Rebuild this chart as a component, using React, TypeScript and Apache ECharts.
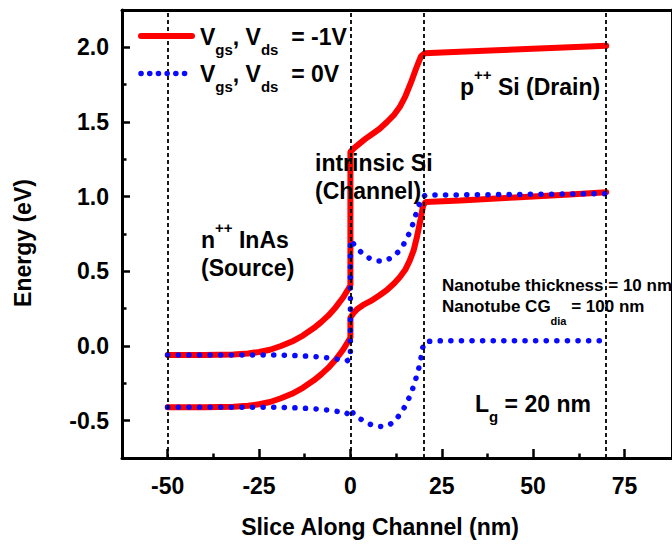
import React, { useEffect, useRef } from 'react';
import * as echarts from 'echarts';

// ---- Axis ticks ----
const xTickValues = [-50, -25, 0, 25, 50, 75];
const xMinorTickValues = [-37.5, -12.5, 12.5, 37.5, 62.5];
const yTickValues = [-0.5, 0, 0.5, 1, 1.5, 2];
const yMinorTickValues = [-0.25, 0.25, 0.75, 1.25, 1.75];
const regionBoundaries = [-50, 0, 20, 70];

// ---- Series data [x (nm), energy (eV)] ----
// Vgs, Vds = -1V : conduction band edge
const redCB = [
  [-50, -0.06], [-40, -0.06], [-32, -0.057], [-28, -0.05], [-25, -0.04], [-22, -0.025],
  [-19, 0.0], [-16, 0.03], [-13, 0.07], [-10, 0.12], [-8, 0.16], [-6, 0.205], [-4, 0.26],
  [-2, 0.325], [0, 0.405], [0, 1.3], [1, 1.325], [2, 1.345], [4, 1.385], [6, 1.42],
  [8, 1.455], [10, 1.5], [12, 1.55], [13.5, 1.6], [15, 1.67], [16.5, 1.76], [18, 1.86],
  [19.3, 1.94], [20.3, 1.96], [25, 1.965], [40, 1.98], [55, 1.995], [70, 2.01],
];
// Vgs, Vds = -1V : valence band edge
const redVB = [
  [-50, -0.41], [-40, -0.41], [-32, -0.407], [-28, -0.4], [-25, -0.39], [-22, -0.375],
  [-19, -0.35], [-16, -0.32], [-13, -0.28], [-10, -0.23], [-8, -0.19], [-6, -0.145],
  [-4, -0.09], [-2, -0.025], [0, 0.055], [0, 0.19], [1, 0.225], [2, 0.25], [3.5, 0.275],
  [5.5, 0.3], [8, 0.34], [10, 0.375], [12, 0.42], [13.5, 0.46], [15, 0.51], [16.2, 0.57],
  [17.3, 0.64], [18.3, 0.74], [19.2, 0.85], [19.9, 0.94], [20.6, 0.965], [30, 0.975],
  [45, 0.995], [60, 1.015], [70, 1.03],
];
// Vgs, Vds = 0V : conduction band edge
const blueCB = [
  [-50, -0.06], [-20, -0.06], [-14, -0.065], [-10, -0.07], [-6, -0.08], [-3, -0.09],
  [-1, -0.1], [0, -0.085], [0, 0.71], [1, 0.68], [2.2, 0.645], [3.5, 0.615], [5, 0.59],
  [7, 0.57], [9.5, 0.57], [11.5, 0.595], [13.3, 0.635], [14.8, 0.69], [16, 0.75], [17, 0.81],
  [17.9, 0.88], [18.7, 0.94], [19.5, 0.99], [20.5, 1.01], [30, 1.012], [50, 1.016], [70, 1.02],
];
// Vgs, Vds = 0V : valence band edge
const blueVB = [
  [-50, -0.41], [-20, -0.41], [-14, -0.415], [-10, -0.42], [-6, -0.43], [-3, -0.44],
  [-1, -0.455], [0, -0.42], [1, -0.46], [2.5, -0.485], [4.5, -0.515], [6.5, -0.535],
  [8.5, -0.54], [10.5, -0.53], [12, -0.505], [13.5, -0.46], [14.8, -0.41], [16, -0.35],
  [17, -0.29], [17.9, -0.22], [18.7, -0.15], [19.3, -0.08], [19.8, -0.01], [20.5, 0.03],
  [25, 0.035], [70, 0.035],
];

// ---- Texts ----
const xAxisTitle = 'Slice Along Channel (nm)';
const yAxisTitle = 'Energy (eV)';
const legendRed = '{m|V}{sub|gs}{m|, V}{sub|ds}{m|  = -1V}';
const legendBlue = '{m|V}{sub|gs}{m|, V}{sub|ds}{m|  = 0V}';
const sourceLine1 = '{m|n}{sup|++}{m| InAs}';
const sourceLine2 = '{m|(Source)}';
const channelLine1 = '{m|intrinsic Si}';
const channelLine2 = '{m|(Channel)}';
const drainLabel = '{m|p}{sup|++}{m| Si (Drain)}';
const thicknessNote = '{m|Nanotube thickness = 10 nm}';
const diameterNote = '{m|Nanotube CG}{sub|dia}{m| = 100 nm}';
const gateNote = '{m|L}{sub|g}{m| = 20 nm}';

const FONT = 'Liberation Sans, Arial, Helvetica, sans-serif';
const RED = '#ff0000';
const BLUE = '#0a0aff';

function rich(F: number, S: number, dsup: number, dsub: number) {
  const base = { fontFamily: FONT, fontWeight: 'bold' as const, color: '#000' };
  return {
    m: { ...base, fontSize: F, lineHeight: 40, verticalAlign: 'middle' },
    sup: { ...base, fontSize: S, lineHeight: 40 - 2 * dsup, verticalAlign: 'top' },
    sub: { ...base, fontSize: S, lineHeight: 40 - 2 * dsub, verticalAlign: 'bottom' },
  };
}

function label(text: string, x: number, capCenter: number, F = 23, S = 15, dsup = 15, dsub = 12) {
  return {
    type: 'text',
    x,
    y: capCenter - 20,
    z: 20,
    silent: true,
    style: { text, rich: rich(F, S, dsup, dsub), align: 'left', verticalAlign: 'top' },
  };
}

const dotted = { type: [0.1, 10.5] as number[], cap: 'round' as const, width: 5.5, color: BLUE };
const solid = { type: 'solid' as const, cap: 'round' as const, width: 6, color: RED };

export default function App() {
  const ref = useRef<HTMLDivElement>(null);
  useEffect(() => {
    if (!ref.current) return;
    const chart = echarts.init(ref.current, undefined, { renderer: 'svg' });
    const common = { min: -62.5, max: 88, type: 'value' as const, splitLine: { show: false } };
    const yCommon = { min: -0.75, max: 2.25, type: 'value' as const, splitLine: { show: false } };
    const axisText = { color: '#000', fontSize: 23, fontWeight: 'bold' as const, fontFamily: FONT };
    chart.setOption({
      animation: false,
      backgroundColor: '#fff',
      grid: { left: 122, top: 10, right: -4, bottom: 89, containLabel: false },
      xAxis: [
        {
          ...common,
          position: 'bottom',
          axisLine: { show: true, onZero: false, lineStyle: { color: '#000', width: 3 } },
          axisTick: { show: true, inside: true, length: 9, customValues: xTickValues, lineStyle: { color: '#000', width: 2.5 } },
          axisLabel: { ...axisText, customValues: xTickValues, margin: 16, formatter: (v: number) => String(v) },
          name: xAxisTitle,
          nameLocation: 'middle',
          nameGap: 57,
          nameTextStyle: { ...axisText, padding: [0, 34, 0, 0] },
        },
        {
          ...common,
          position: 'bottom',
          axisLine: { show: false, onZero: false },
          axisTick: { show: true, inside: true, length: 4.5, customValues: xMinorTickValues, lineStyle: { color: '#000', width: 2.5 } },
          axisLabel: { show: false },
        },
        {
          ...common,
          position: 'top',
          axisLine: { show: true, onZero: false, lineStyle: { color: '#000', width: 3 } },
          axisTick: { show: false },
          axisLabel: { show: false },
        },
      ],
      yAxis: [
        {
          ...yCommon,
          position: 'left',
          axisLine: { show: true, onZero: false, lineStyle: { color: '#000', width: 3 } },
          axisTick: { show: true, inside: true, length: 8, customValues: yTickValues, lineStyle: { color: '#000', width: 2.5 } },
          axisLabel: { ...axisText, customValues: yTickValues, margin: 13, formatter: (v: number) => v.toFixed(1) },
          name: yAxisTitle,
          nameLocation: 'middle',
          nameRotate: 90,
          nameGap: 88,
          nameTextStyle: { ...axisText, padding: [0, 18, 0, 0] },
        },
        {
          ...yCommon,
          position: 'left',
          axisLine: { show: false, onZero: false },
          axisTick: { show: true, inside: true, length: 4.5, customValues: yMinorTickValues, lineStyle: { color: '#000', width: 2.5 } },
          axisLabel: { show: false },
        },
        {
          ...yCommon,
          position: 'right',
          axisLine: { show: true, onZero: false, lineStyle: { color: '#000', width: 3 } },
          axisTick: { show: false },
          axisLabel: { show: false },
        },
      ],
      series: [
        { name: 'Vgs, Vds = -1V (Ec)', type: 'line', data: redCB, showSymbol: false, symbol: 'none', lineStyle: solid, z: 2 },
        { name: 'Vgs, Vds = -1V (Ev)', type: 'line', data: redVB, showSymbol: false, symbol: 'none', lineStyle: solid, z: 2 },
        { name: 'Vgs, Vds = 0V (Ec)', type: 'line', data: blueCB, showSymbol: false, symbol: 'none', lineStyle: dotted, z: 3 },
        { name: 'Vgs, Vds = 0V (Ev)', type: 'line', data: blueVB, showSymbol: false, symbol: 'none', lineStyle: dotted, z: 3 },
        {
          name: 'regions',
          type: 'line',
          data: [],
          z: 5,
          markLine: {
            silent: true,
            symbol: ['none', 'none'],
            label: { show: false },
            lineStyle: { color: '#000', type: [4, 3], width: 1.8 },
            emphasis: { disabled: true },
            data: regionBoundaries.map((v) => ({ xAxis: v })),
          },
        },
      ],
      graphic: [
        { type: 'line', silent: true, z: 20, shape: { x1: 141, y1: 36, x2: 192, y2: 36 }, style: { stroke: RED, lineWidth: 6, lineCap: 'round' } },
        { type: 'line', silent: true, z: 20, shape: { x1: 141, y1: 73.5, x2: 193, y2: 73.5 }, style: { stroke: BLUE, lineWidth: 5.5, lineCap: 'round', lineDash: [0.1, 8.6] } },
        label(legendRed, 200, 37),
        label(legendBlue, 200, 73.5),
        label(sourceLine1, 201, 240, 23, 15, 16, 12),
        label(sourceLine2, 201, 267.5),
        label(channelLine1, 315, 162.5),
        label(channelLine2, 315, 190.5),
        label(drainLabel, 460, 87, 23, 15, 13, 12),
        label(thicknessNote, 442, 285.5, 17, 11, 10, 8.5),
        label(diameterNote, 442, 306.5, 17, 11, 10, 8.5),
        label(gateNote, 475, 403.5, 23, 15, 12, 11.5),
      ],
    });
    return () => chart.dispose();
  }, []);
  return <div ref={ref} style={{ position: 'fixed', left: 0, top: 0, width: 672, height: 547, background: '#fff' }} />;
}
